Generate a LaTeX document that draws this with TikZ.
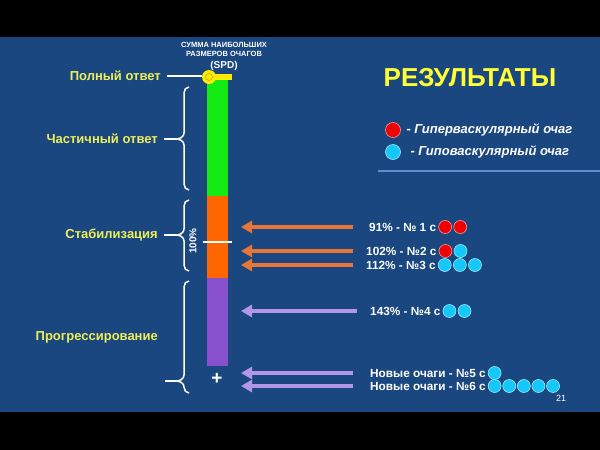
\documentclass[tikz,border=0pt]{standalone}
\usepackage{fontspec}
\setmainfont{Liberation Sans}
\usepackage{tikz}
\usetikzlibrary{positioning, calc, arrows.meta}
\definecolor{BgBlue}{RGB}{26,71,127}
\definecolor{LabelYellow}{RGB}{238,238,90}
\definecolor{TitleYellow}{RGB}{255,255,51}
\definecolor{BarGreen}{RGB}{20,235,20}
\definecolor{BarOrange}{RGB}{255,102,0}
\definecolor{BarPurple}{RGB}{136,80,204}
\definecolor{ArrOrange}{RGB}{232,118,56}
\definecolor{ArrPurple}{RGB}{180,150,230}
\definecolor{HyperRed}{RGB}{240,0,0}
\definecolor{HypoBlue}{RGB}{20,200,250}
\definecolor{SepBlue}{RGB}{100,140,205}
\definecolor{SpdYellow}{RGB}{255,235,0}
\tikzset{
    stage/.style={font=\fontsize{13}{15}\selectfont\bfseries, text=LabelYellow, anchor=east, inner sep=1pt},
    result/.style={font=\fontsize{11.8}{14}\selectfont\bfseries, text=white, anchor=west, inner sep=1pt},
    legend/.style={font=\fontsize{13}{15}\selectfont\bfseries\itshape, text=white, anchor=west, inner sep=1pt},
    hyper/.style={circle, fill=HyperRed, draw=white!60!HyperRed, line width=0.6pt, minimum size=13pt, inner sep=0pt},
    hypo/.style={circle, fill=HypoBlue, draw=white!60!HypoBlue, line width=0.6pt, minimum size=13pt, inner sep=0pt},
    orangearrow/.style={draw=ArrOrange, line width=3.4pt, -{Triangle[length=11pt,width=12pt]}},
    purplearrow/.style={draw=ArrPurple, line width=3.4pt, -{Triangle[length=11pt,width=12pt]}},
    bracket/.style={draw=white, line width=1.5pt}
}
% left brace: x, top, tip, bottom
\newcommand{\stagebrace}[4]{
    \draw[bracket] (#1+5,#2) to[out=180,in=90] (#1,#2+6) -- (#1,#3-6)
        to[out=-90,in=0] (#1-8,#3) to[out=0,in=90] (#1,#3+6) -- (#1,#4-6)
        to[out=-90,in=180] (#1+5,#4);
}

\begin{document}
\begin{tikzpicture}[x=1pt, y=-1pt]

\useasboundingbox (0,0) rectangle (600,450);
\fill[black] (0,0) rectangle (600,450);
\fill[BgBlue] (0,37) rectangle (600,412);

% Title
\node[font=\fontsize{26}{29}\selectfont\bfseries, text=TitleYellow] (title) at (470,78) {РЕЗУЛЬТАТЫ};

% SPD scale
\node[font=\fontsize{7.5}{9}\selectfont\bfseries, text=white, align=center] (spd_lbl) at (224,49.5) {СУММА НАИБОЛЬШИХ\\РАЗМЕРОВ ОЧАГОВ};
\node[font=\fontsize{10}{11}\selectfont\bfseries, text=white, below=-2.5pt of spd_lbl] (spd_abbr) {(SPD)};
\fill[BarGreen] (207,80) rectangle (228,196);
\fill[BarOrange] (207,196) rectangle (228,278);
\fill[BarPurple] (207,278) rectangle (228,366);
\fill[SpdYellow] (209,74) rectangle (232,80);
\node[circle, fill=SpdYellow, minimum size=14pt, inner sep=0pt] (spd) at (209,77) {};
\draw[SpdYellow!75!black, line width=0.6pt] (spd.center) circle (3.5pt);
\draw[white, line width=1.3pt] (203,242) -- (232,242);
\node[rotate=90, font=\fontsize{10}{11}\selectfont\bfseries, text=white] (l_100) at (193,241) {100\%};
\node[font=\fontsize{19}{19}\selectfont\bfseries, text=white] (plus) at (217,379) {+};
\coordinate (tipx) at (241,0);
\coordinate (tailx) at (353,0);

% Stages
\node[stage] (l_full) at (162,76) {Полный ответ};
\draw[white, line width=1.5pt] ([xshift=5pt]l_full.east) -- (l_full.east -| spd.west);

\node[stage] (l_part) at (159,139) {Частичный ответ};
\stagebrace{184}{87}{139}{190}
\coordinate (tip_part) at (176,139);
\draw[white, line width=1.5pt] ([xshift=5pt]l_part.east) -- (tip_part);

\node[stage] (l_stab) at (159,235) {Стабилизация};
\stagebrace{184}{200}{235}{271}
\coordinate (tip_stab) at (176,235);
\draw[white, line width=1.5pt] ([xshift=5pt]l_stab.east) -- (tip_stab);

\node[stage] (l_prog) at (159,337) {Прогрессирование};
\stagebrace{184}{281}{381}{393}
\coordinate (tip_prog) at (176,381);
\draw[white, line width=1.5pt] (165,381) -- (tip_prog);

% Legend
\node[hyper, minimum size=15pt] (lg_hyper) at (393,130) {};
\node[legend, right=4.5pt of lg_hyper] (lg_hyper_txt) {- Гиперваскулярный очаг};
\node[hypo, minimum size=15pt] (lg_hypo) at (393,152) {};
\node[legend, right=8.5pt of lg_hypo] (lg_hypo_txt) {- Гиповаскулярный очаг};
\draw[SepBlue, line width=1.5pt] (378,171) -- (600,171);

% No 1
\node[result] (r1) at (368,227) {91\% - № 1 с};
\node[hyper, right=1pt of r1] (r1a) {};
\node[hyper, right=1.5pt of r1a] (r1b) {};
\draw[orangearrow] (r1.west -| tailx) -- (r1.west -| tipx);

% No 2
\node[result] (r2) at (365,251) {102\% - №2 с};
\node[hyper, right=1pt of r2] (r2a) {};
\node[hypo, right=1.5pt of r2a] (r2b) {};
\draw[orangearrow] (r2.west -| tailx) -- (r2.west -| tipx);

% No 3
\node[result] (r3) at (365,265) {112\% - №3 с};
\node[hypo, right=1pt of r3] (r3a) {};
\node[hypo, right=1.5pt of r3a] (r3b) {};
\node[hypo, right=1.5pt of r3b] (r3c) {};
\draw[orangearrow] (r3.west -| tailx) -- (r3.west -| tipx);

% No 4
\node[result] (r4) at (369,311) {143\% - №4 с};
\node[hypo, right=1pt of r4] (r4a) {};
\node[hypo, right=1.5pt of r4a] (r4b) {};
\draw[purplearrow] ([xshift=-12pt]r4.west) -- (r4.west -| tipx);

% No 5
\node[result] (r5) at (369,373) {Новые очаги - №5 с};
\node[hypo, right=1pt of r5] (r5a) {};
\draw[purplearrow] (r5.west -| tailx) -- (r5.west -| tipx);

% No 6
\node[result] (r6) at (369,386) {Новые очаги - №6 с};
\node[hypo, right=1pt of r6] (r6a) {};
\node[hypo, right=1pt of r6a] (r6b) {};
\node[hypo, right=1pt of r6b] (r6c) {};
\node[hypo, right=1pt of r6c] (r6d) {};
\node[hypo, right=1pt of r6d] (r6e) {};
\draw[purplearrow] (r6.west -| tailx) -- (r6.west -| tipx);

% Page
\node[font=\fontsize{9}{10}\selectfont, text=white] (page) at (561,398) {21};

\end{tikzpicture}
\end{document}
